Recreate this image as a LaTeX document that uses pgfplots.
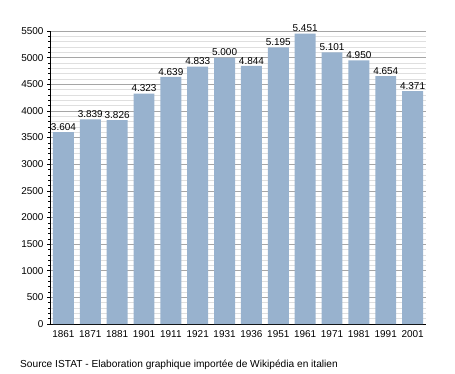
\documentclass[border=0pt]{standalone}
\usepackage{pgfplots}
\pgfplotsset{compat=1.18}
\usepackage{fontspec}
\setmainfont{Liberation Sans}
\definecolor{barc}{HTML}{98B2CE}
\begin{document}
\begin{tikzpicture}[x=1bp,y=1bp]
\path (0,0) rectangle (455,373);
\begin{axis}[
  at={(50bp,49bp)}, anchor=south west,
  scale only axis, width=376bp, height=293bp,
  ymin=0, ymax=5500, xmin=-0.5, xmax=13.5,
  axis lines=left, axis line style={-, black, line width=0.8pt},
  ytick distance=500, minor y tick num=4,
  ymajorgrids, yminorgrids,
  major grid style={gray!70, line width=0.5pt},
  minor grid style={gray!25, line width=0.4pt},
  tick align=outside, major tick length=3bp, minor tick length=2bp,
  ytick style={black, line width=0.5pt},
  xtick=data, xtick style={draw=none},
  xticklabels={1861,1871,1881,1901,1911,1921,1931,1936,1951,1961,1971,1981,1991,2001},
  ticklabel style={font=\fontsize{10}{11}\selectfont},
  /pgf/number format/assume math mode=true,
  yticklabel style={/pgf/number format/.cd, 1000 sep={}},
  scaled y ticks=false,
  ybar, bar width=0.78, 
  nodes near coords,
  nodes near coords style={font=\fontsize{10}{11}\selectfont, black, inner sep=1.5bp, /pgf/number format/.cd, fixed, 1000 sep={.}, assume math mode=true},
  clip=false,
]
\addplot[fill=barc, draw=none] coordinates {
(0,3604) (1,3839) (2,3826) (3,4323) (4,4639) (5,4833) (6,5000) (7,4844) (8,5195) (9,5451) (10,5101) (11,4950) (12,4654) (13,4371)
};
\end{axis}
\node[anchor=base west, inner sep=0pt, font=\fontsize{10.2}{11}\selectfont] at (20,6) {Source ISTAT - Elaboration graphique importée de Wikipédia en italien};
\end{tikzpicture}
\end{document}
